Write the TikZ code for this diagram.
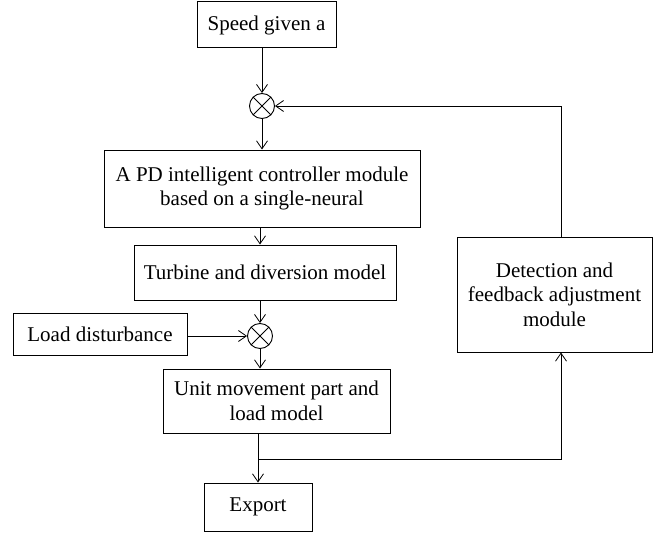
\documentclass[tikz,border=0pt]{standalone}
\usepackage{fontspec}
\setmainfont{Liberation Serif}
\usetikzlibrary{arrows.meta}
\begin{document}
\begin{tikzpicture}[x=1pt,y=-1pt,
 box/.style={draw, line width=1pt, inner sep=0pt, align=center, font=\fontsize{21}{24.5}\selectfont},
 summ/.style={draw, circle, line width=0.9pt, minimum size=25pt, inner sep=0pt,
   path picture={\draw[line width=0.9pt] (path picture bounding box.north west) -- (path picture bounding box.south east)
     (path picture bounding box.north east) -- (path picture bounding box.south west);}},
 conn/.style={line width=0.8pt, -{Straight Barb[length=8pt,width=11pt]}}]
\useasboundingbox (0,0) rectangle (653,535);

\node[box, minimum width=139pt, minimum height=46pt] (speed) at (266.5,25) {Speed given a};
\node[summ] (c1) at (262,106) {};
\node[box, minimum width=316pt, minimum height=77pt] (pd) at (262,188.5) {A PD intelligent controller module\\based on a single-neural};
\node[box, minimum width=262pt, minimum height=55pt] (turb) at (265,272.5) {Turbine and diversion model};
\node[box, minimum width=174pt, minimum height=42pt] (load) at (100,334.5) {Load disturbance};
\node[summ] (c2) at (260,336) {};
\node[box, minimum width=227pt, minimum height=64pt] (unit) at (276.5,401) {Unit movement part and\\load model};
\node[box, minimum width=108pt, minimum height=48pt] (export) at (258,507) {Export};
\node[box, minimum width=195pt, minimum height=115pt] (fb) at (554.5,294.5) {Detection and\\feedback adjustment\\module};

\coordinate (j) at (258,459);
\coordinate (fbx) at (561,0);

\draw[conn] (c1 |- speed.south) -- (c1.north);
\draw[conn] (c1.south) -- (c1 |- pd.north);
\draw[conn] (c2 |- pd.south) -- (c2 |- turb.north);
\draw[conn] (c2 |- turb.south) -- (c2.north);
\draw[conn] (load.east |- c2.west) -- (c2.west);
\draw[conn] (c2.south) -- (c2 |- unit.north);
\draw[conn] (export |- unit.south) -- (export.north);
\draw[conn] (j) -| (fbx |- fb.south);
\draw[conn] (fbx |- fb.north) |- (c1.east);
\end{tikzpicture}
\end{document}
